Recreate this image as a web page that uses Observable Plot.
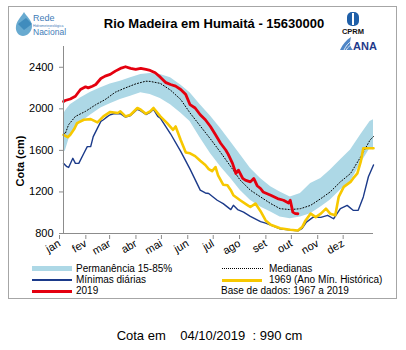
<!DOCTYPE html>
<html>
<head>
<meta charset="utf-8">
<script src="https://cdn.jsdelivr.net/npm/d3@7"></script>
<script src="https://cdn.jsdelivr.net/npm/@observablehq/plot@0.6"></script>
<style>
  html, body { margin: 0; padding: 0; background: #fff; }
  body { width: 406px; height: 350px; overflow: hidden; font-family: "Liberation Sans", Arial, sans-serif; }
  #wrap { position: relative; width: 406px; height: 350px; }
  #frame { position: absolute; left: 8px; top: 6px; width: 387px; height: 291px; border: 1px solid #a6a6a6; }
  #chart { position: absolute; left: 0; top: 0; }
</style>
</head>
<body>
<div id="wrap">
  <div id="frame"></div>
  <div id="chart"></div>
</div>
<script>
// ---------- data (day of year, cota in cm) ----------
const monthNames = ["jan","fev","mar","abr","mai","jun","jul","ago","set","out","nov","dez"];
const monthStarts = [1, 32, 60, 91, 121, 152, 182, 213, 244, 274, 305, 335];
const yTicks = [800, 1200, 1600, 2000, 2400];

const bandDays = [1,3,9,21,33,45,56,68,80,92,103,115,127,139,150,162,174,186,198,209,221,233,245,256,268,280,292,304,315,327,339,351,362,366];
const bandLow  = [1604,1590,1750,1866,1940,2008,2050,2089,2120,2154,2137,2100,2040,1960,1879,1720,1570,1443,1330,1217,1120,1055,1006,958,942,958,991,1055,1120,1217,1297,1475,1621,1604];
const bandHigh = [1943,1976,2040,2105,2160,2202,2240,2266,2300,2331,2340,2330,2299,2230,2154,2040,1930,1810,1680,1560,1427,1330,1249,1200,1152,1185,1282,1330,1410,1507,1604,1750,1879,1895];

const medDays = [1,3,7,15,27,39,50,62,74,86,98,103,115,127,139,150,162,174,186,198,209,221,233,245,256,268,280,292,304,315,327,339,351,362,366];
const medCota = [1769,1760,1847,1927,1976,2040,2089,2160,2202,2240,2266,2264,2245,2180,2090,1960,1835,1710,1580,1443,1314,1217,1152,1088,1039,1030,1039,1071,1136,1200,1297,1378,1539,1701,1733];

const minDays = [1,5,7,12,15,19,25,29,33,36,41,45,48,53,56,60,68,74,80,88,92,98,103,107,112,115,127,139,150,162,168,172,176,182,189,198,201,206,213,221,233,239,245,256,268,277,282,287,295,304,312,319,327,335,342,348,354,360,366];
const minCota = [1475,1443,1436,1524,1475,1475,1572,1636,1636,1733,1814,1879,1895,1927,1943,1953,1953,1920,1935,1995,1980,1945,1965,1995,1927,1911,1760,1590,1420,1217,1190,1185,1159,1120,1088,1030,1071,1030,1006,965,915,900,880,845,832,825,850,910,958,955,975,942,1039,1071,1023,1023,1152,1346,1460];

const y1969Days = [1,6,9,14,17,25,33,41,48,56,65,68,74,80,88,92,98,103,107,115,123,130,133,139,145,150,156,162,168,172,176,180,183,189,194,198,201,209,218,221,227,233,239,245,256,268,277,282,286,292,298,304,310,315,321,325,331,339,342,347,351,354,359,366];
const y1969Cota = [1750,1727,1750,1810,1863,1895,1901,1869,1927,1970,1960,1976,1927,1943,2008,1992,1953,1976,2008,1927,1863,1798,1830,1700,1580,1572,1545,1500,1459,1420,1400,1440,1360,1270,1265,1217,1168,1120,1071,1055,1088,1015,926,885,850,836,829,862,926,991,958,991,1039,991,975,1152,1249,1297,1330,1378,1491,1621,1621,1621];

const y2019Days = [1,3,9,15,21,27,30,35,39,45,50,56,62,68,74,80,86,92,98,103,109,115,121,127,133,139,145,150,156,162,168,174,180,186,192,195,200,204,207,212,215,221,225,229,233,236,245,253,260,266,268,271,274,277];
const y2019Cota = [2070,2080,2095,2121,2186,2212,2202,2218,2234,2292,2315,2331,2363,2389,2405,2389,2379,2389,2379,2370,2347,2305,2255,2234,2218,2186,2137,2040,2008,1943,1895,1830,1750,1669,1604,1562,1475,1378,1410,1330,1314,1297,1330,1260,1233,1200,1168,1136,1120,1094,1120,1006,991,990];

// ---------- tables ----------
const band = bandDays.map((d, i) => ({d, lo: bandLow[i], hi: bandHigh[i]}));
const med = medDays.map((d, i) => ({d, v: medCota[i]}));
const mins = minDays.map((d, i) => ({d, v: minCota[i]}));
const s1969 = y1969Days.map((d, i) => ({d, v: y1969Cota[i]}));
const s2019 = y2019Days.map((d, i) => ({d, v: y2019Cota[i]}));

const colBand = "#add8e6", colMin = "#1b3a8a", col1969 = "#f7c800", col2019 = "#e4000f";
const axisGray = "#8c8c8c";

const chart = Plot.plot({
  width: 406,
  height: 262,
  marginLeft: 63,
  marginRight: 33,
  marginTop: 46,
  marginBottom: 29,
  style: {fontFamily: "'Liberation Sans', Arial, sans-serif", fontSize: "11px", color: "#000", background: "transparent"},
  x: {domain: [1, 366]},
  y: {domain: [800, 2600]},
  marks: [
    Plot.areaY(band, {x: "d", y1: "lo", y2: "hi", fill: colBand, curve: "linear"}),
    Plot.line(med, {x: "d", y: "v", stroke: "#000", strokeWidth: 1, strokeDasharray: "1,2"}),
    Plot.line(mins, {x: "d", y: "v", stroke: colMin, strokeWidth: 1.4}),
    Plot.line(s1969, {x: "d", y: "v", stroke: col1969, strokeWidth: 2.6}),
    Plot.line(s2019, {x: "d", y: "v", stroke: col2019, strokeWidth: 2.8}),
    Plot.ruleY([800], {stroke: axisGray}),
    Plot.ruleX([1], {stroke: axisGray}),
    Plot.axisY({ticks: yTicks, tickFormat: d => String(d), tickSize: 4, tickPadding: 6, label: null, stroke: axisGray, fontSize: 11}),
    Plot.axisX({ticks: monthStarts, tickFormat: d => monthNames[monthStarts.indexOf(d)], tickRotate: -30, tickSize: 4, tickPadding: 3, dx: -4, dy: 2, label: null, stroke: axisGray, fontSize: 11})
  ]
});
document.getElementById("chart").appendChild(chart);

// ---------- overlay texts: title, logos, y label, legend, caption ----------
const wrap = document.getElementById("wrap");
function add(html, css) {
  const el = document.createElement("div");
  el.innerHTML = html;
  el.style.cssText = css;
  wrap.appendChild(el);
  return el;
}
const title = "Rio Madeira em Humaitá - 15630000";
add(title, "position:absolute;left:0;width:428px;top:16px;text-align:center;font-weight:bold;font-size:13px;white-space:pre;");

// Rede Hidrometeorológica Nacional logo
add(`<svg width="60" height="32" viewBox="0 0 60 32">
  <path d="M10 2 C12 6 18 10 18 16 C18 22 13 26 9 26 C5 26 1 22 2 16 C3 10 8 6 10 2Z" fill="#4d9bc8" opacity="0.85"/>
  <path d="M4 14 L12 8 L18 14 L10 20Z" fill="#2f7fb5" opacity="0.7"/>
  <text x="19" y="11" font-size="9" fill="#3f7db8" font-family="Liberation Sans Narrow, Arial Narrow, sans-serif">Rede</text>
  <text x="19" y="17" font-size="3.5" fill="#3f7db8">Hidrometeorológica</text>
  <text x="19" y="25" font-size="8.5" fill="#3f7db8" font-family="Liberation Sans Narrow, Arial Narrow, sans-serif">Nacional</text>
</svg>`, "position:absolute;left:14px;top:10px;");

// CPRM and ANA logos
add(`<svg width="50" height="56" viewBox="0 0 50 56">
  <rect x="10" y="12" width="12" height="14" rx="5" fill="#1f5fa8"/>
  <rect x="15" y="13" width="2" height="12" fill="#fff"/>
  <text x="16" y="34" font-size="7.5" font-weight="bold" text-anchor="middle" fill="#111">CPRM</text>
  <path d="M3 50 C6 44 9 40 14 37 C13 42 12 46 16 50 Z" fill="#4f86c6"/>
  <path d="M7 50 C9 46 11 43 15 41 M9 50 C11 47 13 45 17 44" stroke="#fff" stroke-width="0.8" fill="none"/>
  <text x="16" y="50" font-size="11" font-weight="bold" fill="#1f3a8a">ANA</text>
</svg>`, "position:absolute;left:337px;top:0px;");

// y axis title
add("Cota (cm)", "position:absolute;left:-12px;top:155px;width:64px;text-align:center;font-weight:bold;font-size:11px;transform:rotate(-90deg);white-space:pre;");

// legend
function swatch(x, y, h, color) {
  add("", `position:absolute;left:${x}px;top:${y - h / 2}px;width:40px;height:${h}px;background:${color};`);
}
function ltext(x, y, t) {
  add(t, `position:absolute;left:${x}px;top:${y - 6}px;font-size:10px;line-height:12px;white-space:pre;`);
}
swatch(32, 268.5, 5, colBand);
ltext(76, 268.5, "Permanência 15-85%");
add("", "position:absolute;left:222px;top:268px;width:41px;height:0;border-top:1px dotted #000;");
ltext(269, 268.5, "Medianas");
swatch(32, 280, 1.5, colMin);
ltext(76, 280, "Mínimas diárias");
swatch(222, 280, 3, col1969);
ltext(269, 280, "1969 (Ano Mín. Histórica)");
swatch(32, 291, 3, col2019);
ltext(76, 291, "2019");
ltext(221, 291, "Base de dados: 1967 a 2019");

// caption
add("Cota em    04/10/2019  : 990 cm", "position:absolute;left:0;width:419px;top:328px;text-align:center;font-size:13px;white-space:pre;");
</script>
</body>
</html>
